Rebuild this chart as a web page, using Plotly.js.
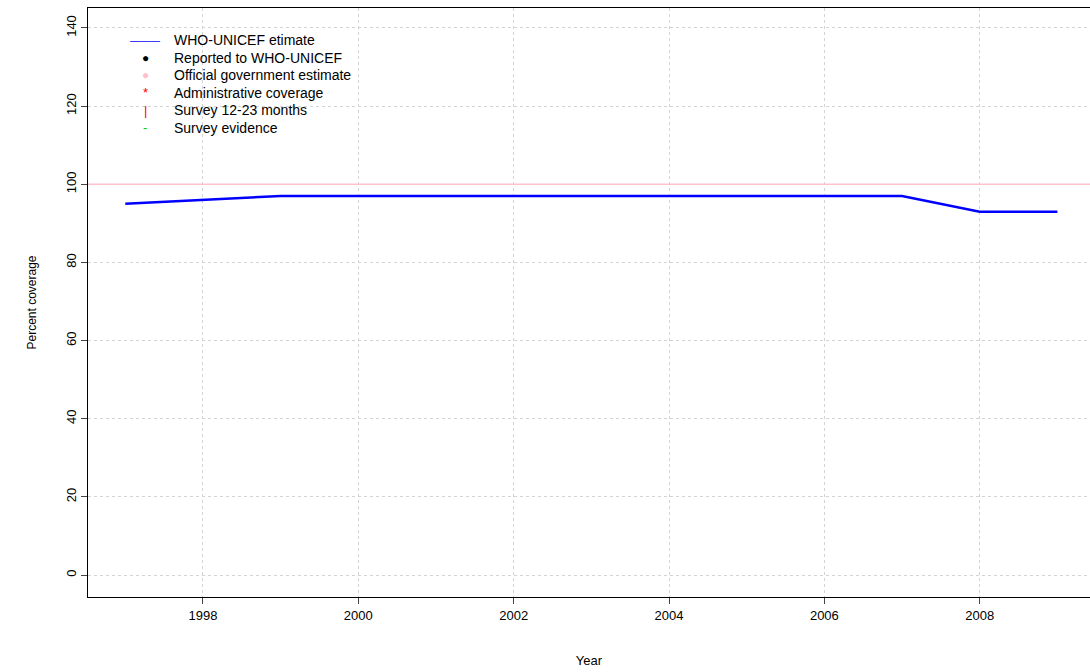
<!DOCTYPE html>
<html>
<head>
<meta charset="utf-8">
<script src="https://cdn.plot.ly/plotly-3.0.1.min.js"></script>
<style>body{margin:0;background:#fff}#plot{width:1090px;height:672px}</style>
</head>
<body>
<div id="plot"></div>
<script>
// WHO-UNICEF estimate by year
var years = [1997, 1998, 1999, 2000, 2001, 2002, 2003, 2004, 2005, 2006, 2007, 2008, 2009];
var whoUnicef = [95, 96, 97, 97, 97, 97, 97, 97, 97, 97, 97, 93, 93];
// official government estimate drawn as a flat reference line
var officialLevel = 100;
var xTicks = [1998, 2000, 2002, 2004, 2006, 2008];
var yTicks = [0, 20, 40, 60, 80, 100, 120, 140];

var legendItems = [
  {sym: '———', color: 'blue', label: 'WHO-UNICEF etimate', size: 10},
  {sym: '●', color: 'black', label: 'Reported to WHO-UNICEF', size: 12},
  {sym: '●', color: 'pink', label: 'Official government estimate', size: 12},
  {sym: '*', color: 'red', label: 'Administrative coverage', size: 13},
  {sym: '|', color: 'red', label: 'Survey 12-23 months', size: 13},
  {sym: '-', color: '#00cc00', label: 'Survey evidence', size: 13}
];

var data = [{
  x: years, y: whoUnicef, type: 'scatter', mode: 'lines',
  line: {color: 'blue', width: 2.5}, showlegend: false
}];

var annotations = [];
legendItems.forEach(function (it, i) {
  var yy = 0.945 - i * 0.0297;
  annotations.push({xref: 'paper', yref: 'paper', x: 0.057, y: yy, xanchor: 'center', yanchor: 'middle',
    text: it.sym, showarrow: false, font: {color: it.color, size: it.size, family: 'Liberation Sans, Arial'}});
  annotations.push({xref: 'paper', yref: 'paper', x: 0.084, y: yy, xanchor: 'left', yanchor: 'middle',
    text: it.label, showarrow: false, font: {color: 'black', size: 14, family: 'Liberation Sans, Arial'}});
});

var layout = {
  width: 1090, height: 672,
  margin: {l: 88, r: 0, t: 8, b: 75},
  paper_bgcolor: 'white', plot_bgcolor: 'white',
  font: {family: 'Liberation Sans, Arial', size: 13, color: 'black'},
  showlegend: false,
  xaxis: {
    range: [1996.52, 2009.42], tickvals: xTicks, ticks: 'outside', ticklen: 6,
    showgrid: true, gridcolor: '#d3d3d3', griddash: 'dot', zeroline: false,
    showline: true, mirror: true, linecolor: 'black', linewidth: 1,
    title: {text: 'Year', standoff: 34, font: {size: 13}}
  },
  yaxis: {
    range: [-5.6, 145.1], tickvals: yTicks, ticks: 'outside', ticklen: 6, tickangle: -90,
    showgrid: true, gridcolor: '#d3d3d3', griddash: 'dot', zeroline: false,
    showline: true, mirror: true, linecolor: 'black', linewidth: 1,
    title: {text: 'Percent coverage', standoff: 24, font: {size: 12}}
  },
  shapes: [{type: 'line', xref: 'paper', x0: 0, x1: 1, yref: 'y', y0: officialLevel, y1: officialLevel,
    line: {color: 'pink', width: 1.5}}],
  annotations: annotations
};

Plotly.newPlot('plot', data, layout, {displayModeBar: false});
</script>
</body>
</html>
